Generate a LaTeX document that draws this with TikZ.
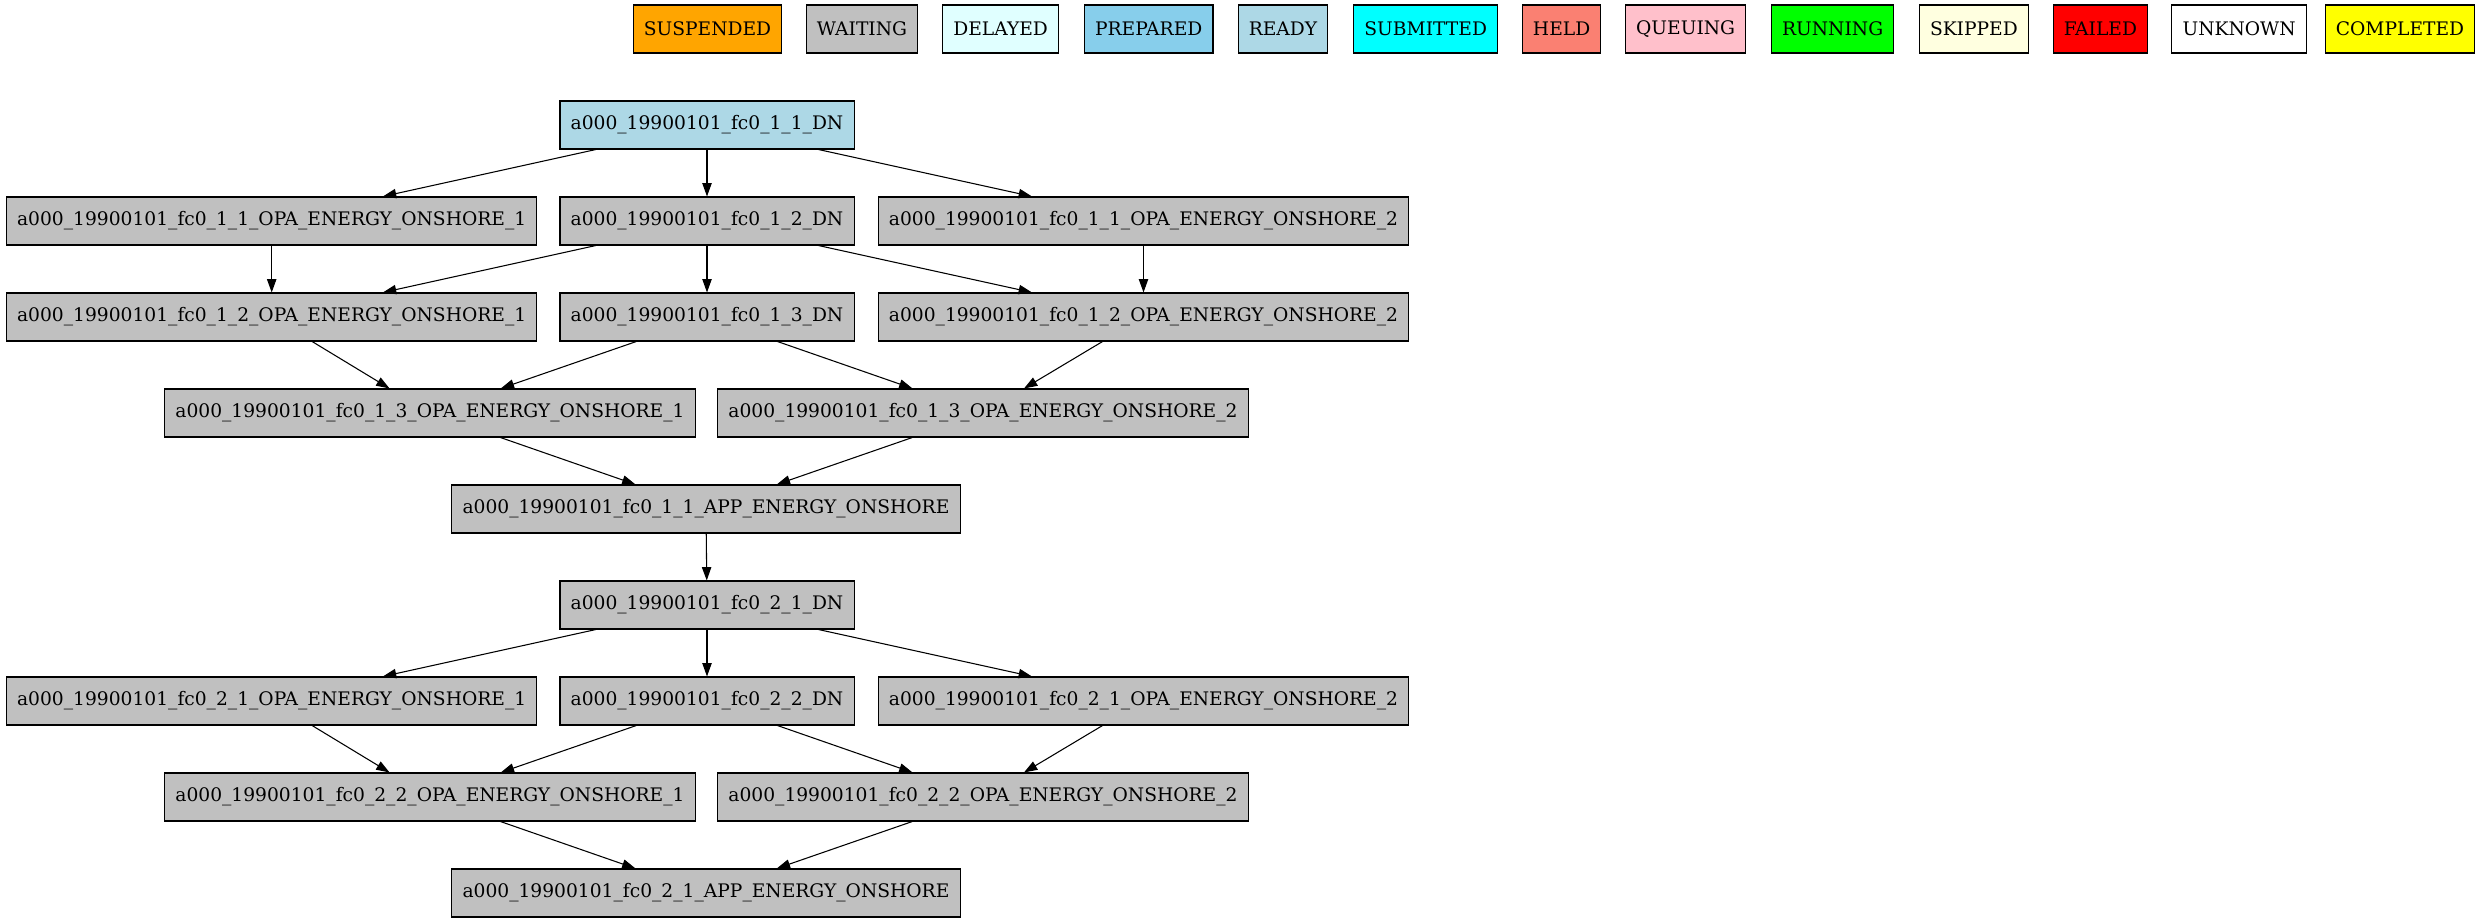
\documentclass[tikz,border=0pt]{standalone}
\usepackage{fontspec}
\setmainfont{DejaVu Serif}
\usetikzlibrary{arrows.meta}

\definecolor{susporange}{HTML}{FFA500}
\definecolor{waitgray}{HTML}{C0C0C0}
\definecolor{delaycyan}{HTML}{E0FFFF}
\definecolor{prepblue}{HTML}{87CEEB}
\definecolor{readyblue}{HTML}{ADD8E6}
\definecolor{subcyan}{HTML}{00FFFF}
\definecolor{heldsalmon}{HTML}{FA8072}
\definecolor{queuepink}{HTML}{FFC0CB}
\definecolor{rungreen}{HTML}{00FF00}
\definecolor{skipyellow}{HTML}{FFFFE0}
\definecolor{failred}{HTML}{FF0000}
\definecolor{doneyellow}{HTML}{FFFF00}

\begin{document}
\begin{tikzpicture}[x=0.75pt,y=-0.75pt,
    box/.style={draw,line width=0.8pt,minimum height=36pt,inner xsep=8pt,inner ysep=0pt,
      font=\fontsize{14}{16}\selectfont},
    job/.style={box,fill=waitgray},
    dep/.style={-{Triangle[length=10pt,width=7pt]},line width=0.8pt}]

    \useasboundingbox (0,0) rectangle (2487,923);

    % Legend of states
    \node[box,fill=susporange] (lsusp) at (707.5,29) {SUSPENDED};
    \node[box,fill=waitgray]   (lwait) at (862,29) {WAITING};
    \node[box,fill=delaycyan]  (ldelay) at (1000.6,29) {DELAYED};
    \node[box,fill=prepblue]   (lprep) at (1148.7,29) {PREPARED};
    \node[box,fill=readyblue]  (lready) at (1283,29) {READY};
    \node[box,fill=subcyan]    (lsub) at (1425.7,29) {SUBMITTED};
    \node[box,fill=heldsalmon] (lheld) at (1561.6,29) {HELD};
    \node[box,fill=queuepink]  (lqueue) at (1685.6,29) {QUEUING};
    \node[box,fill=rungreen]   (lrun) at (1832.6,29) {RUNNING};
    \node[box,fill=skipyellow] (lskip) at (1973.9,29) {SKIPPED};
    \node[box,fill=failred]    (lfail) at (2100.4,29) {FAILED};
    \node[box,fill=white]      (lunk) at (2239.1,29) {UNKNOWN};
    \node[box,fill=doneyellow] (ldone) at (2400,29) {COMPLETED};

    % Chunk 1
    \node[box,fill=readyblue] (aDNa) at (707,125) {a000\_19900101\_fc0\_1\_1\_DN};
    \node[job] (aOPAaa) at (271.7,221) {a000\_19900101\_fc0\_1\_1\_OPA\_ENERGY\_ONSHORE\_1};
    \node[job] (aDNb)   at (707,221)   {a000\_19900101\_fc0\_1\_2\_DN};
    \node[job] (aOPAab) at (1143.5,221) {a000\_19900101\_fc0\_1\_1\_OPA\_ENERGY\_ONSHORE\_2};
    \node[job] (aOPAba) at (271.7,317) {a000\_19900101\_fc0\_1\_2\_OPA\_ENERGY\_ONSHORE\_1};
    \node[job] (aDNc)   at (707,317)   {a000\_19900101\_fc0\_1\_3\_DN};
    \node[job] (aOPAbb) at (1143.5,317) {a000\_19900101\_fc0\_1\_2\_OPA\_ENERGY\_ONSHORE\_2};
    \node[job] (aOPAca) at (430,413)   {a000\_19900101\_fc0\_1\_3\_OPA\_ENERGY\_ONSHORE\_1};
    \node[job] (aOPAcb) at (983,413)   {a000\_19900101\_fc0\_1\_3\_OPA\_ENERGY\_ONSHORE\_2};
    \node[job] (aAPP)   at (706,509)   {a000\_19900101\_fc0\_1\_1\_APP\_ENERGY\_ONSHORE};

    % Chunk 2
    \node[job] (bDNa)   at (707,605)   {a000\_19900101\_fc0\_2\_1\_DN};
    \node[job] (bOPAaa) at (271.7,701) {a000\_19900101\_fc0\_2\_1\_OPA\_ENERGY\_ONSHORE\_1};
    \node[job] (bDNb)   at (707,701)   {a000\_19900101\_fc0\_2\_2\_DN};
    \node[job] (bOPAab) at (1143.5,701) {a000\_19900101\_fc0\_2\_1\_OPA\_ENERGY\_ONSHORE\_2};
    \node[job] (bOPAba) at (430,797)   {a000\_19900101\_fc0\_2\_2\_OPA\_ENERGY\_ONSHORE\_1};
    \node[job] (bOPAbb) at (983,797)   {a000\_19900101\_fc0\_2\_2\_OPA\_ENERGY\_ONSHORE\_2};
    \node[job] (bAPP)   at (706,893)   {a000\_19900101\_fc0\_2\_1\_APP\_ENERGY\_ONSHORE};

    % Dependencies, chunk 1
    \draw[dep] (aDNa) -- (aOPAaa);
    \draw[dep] (aDNa) -- (aDNb);
    \draw[dep] (aDNa) -- (aOPAab);
    \draw[dep] (aOPAaa) -- (aOPAba);
    \draw[dep] (aDNb) -- (aOPAba);
    \draw[dep] (aDNb) -- (aDNc);
    \draw[dep] (aDNb) -- (aOPAbb);
    \draw[dep] (aOPAab) -- (aOPAbb);
    \draw[dep] (aOPAba) -- (aOPAca);
    \draw[dep] (aDNc) -- (aOPAca);
    \draw[dep] (aDNc) -- (aOPAcb);
    \draw[dep] (aOPAbb) -- (aOPAcb);
    \draw[dep] (aOPAca) -- (aAPP);
    \draw[dep] (aOPAcb) -- (aAPP);

    % Chunk 1 -> chunk 2
    \draw[dep] (aAPP) -- (bDNa);

    % Dependencies, chunk 2
    \draw[dep] (bDNa) -- (bOPAaa);
    \draw[dep] (bDNa) -- (bDNb);
    \draw[dep] (bDNa) -- (bOPAab);
    \draw[dep] (bOPAaa) -- (bOPAba);
    \draw[dep] (bDNb) -- (bOPAba);
    \draw[dep] (bDNb) -- (bOPAbb);
    \draw[dep] (bOPAab) -- (bOPAbb);
    \draw[dep] (bOPAba) -- (bAPP);
    \draw[dep] (bOPAbb) -- (bAPP);
  \end{tikzpicture}
\end{document}
